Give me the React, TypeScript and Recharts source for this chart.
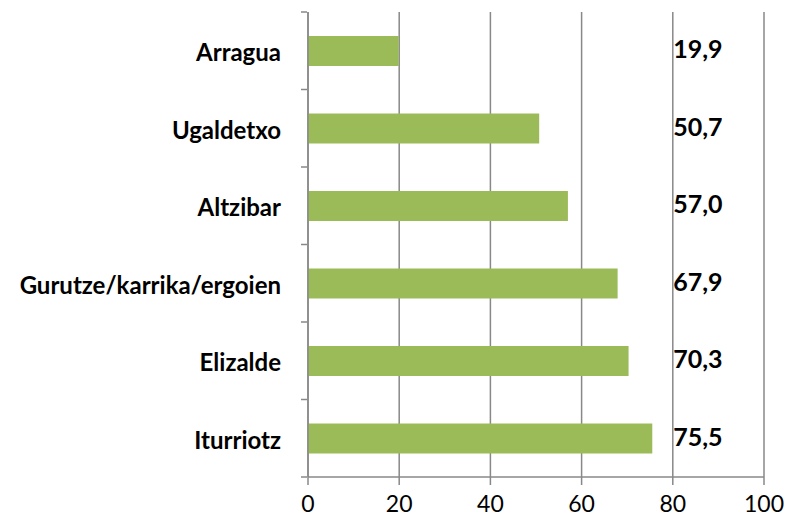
import React from 'react';
import { BarChart, Bar, XAxis, YAxis, CartesianGrid, LabelList } from 'recharts';

const GREEN = '#9BBB59';
const GRID = '#888888';
const FONT = 'Lato, "Open Sans", sans-serif';

const categories = ['Arragua', 'Ugaldetxo', 'Altzibar', 'Gurutze/karrika/ergoien', 'Elizalde', 'Iturriotz'];
const values = [19.9, 50.7, 57.0, 67.9, 70.3, 75.5];
const xTicks = [0, 20, 40, 60, 80, 100];

const data = categories.map((name, i) => ({ name, value: values[i] }));

const W = 788;
const H = 522;
const MARGIN = { top: 12, right: 24, bottom: 0, left: 0 };
const Y_AXIS_W = 308;
const X_AXIS_H = 45;
const BAND = (H - MARGIN.top - MARGIN.bottom - X_AXIS_H) / categories.length;

// category tick: label + tick marks at band edges (excel style)
const CategoryTick = (props: any) => {
  const { x, y, payload, index } = props;
  const top = y - BAND / 2;
  return (
    <g>
      <line x1={x + 1} x2={x + 7} y1={top} y2={top} stroke={GRID} strokeWidth={1.5} />
      {index === categories.length - 1 && (
        <line x1={x + 1} x2={x + 7} y1={top + BAND} y2={top + BAND} stroke={GRID} strokeWidth={1.5} />
      )}
      <text x={x - 19} y={y + 1} textAnchor="end" dominantBaseline="central"
        fontFamily={FONT} fontWeight={700} fontSize={24} fill="#000">
        {payload.value}
      </text>
    </g>
  );
};

const XTick = (props: any) => {
  const { x, y, payload } = props;
  return (
    <text x={x} y={y + 16} textAnchor="middle" dominantBaseline="central"
      fontFamily={FONT} fontSize={23} fill="#000">
      {payload.value}
    </text>
  );
};

// value labels sit in a column near the right edge, not at the bar ends
const ValueLabel = (props: any) => {
  const { x, y, width, height, value } = props;
  const perUnit = width / value;
  const cx = x + perUnit * 85.5;
  return (
    <text x={cx} y={y + height / 2 - 3} textAnchor="middle" dominantBaseline="central"
      fontFamily={FONT} fontWeight={700} fontSize={25} fill="#000">
      {value.toFixed(1).replace('.', ',')}
    </text>
  );
};

export default function App() {
  return (
    <div style={{ position: 'absolute', left: 0, top: 0, width: W, height: H, background: '#fff' }}>
      <BarChart width={W} height={H} data={data} layout="vertical" margin={MARGIN}>
        <CartesianGrid horizontal={false} vertical stroke={GRID} strokeWidth={1.5} />
        <XAxis
          type="number" domain={[0, 100]} ticks={xTicks} interval={0}
          height={X_AXIS_H} tickSize={8}
          axisLine={{ stroke: GRID, strokeWidth: 1.5 }} tickLine={{ stroke: GRID, strokeWidth: 1.5 }}
          tick={<XTick />}
        />
        <YAxis
          type="category" dataKey="name" width={Y_AXIS_W}
          axisLine={{ stroke: GRID, strokeWidth: 1.5 }} tickLine={false}
          tick={<CategoryTick />} interval={0}
        />
        <Bar dataKey="value" fill={GREEN} barSize={30} isAnimationActive={false}>
          <LabelList dataKey="value" content={<ValueLabel />} />
        </Bar>
      </BarChart>
    </div>
  );
}
